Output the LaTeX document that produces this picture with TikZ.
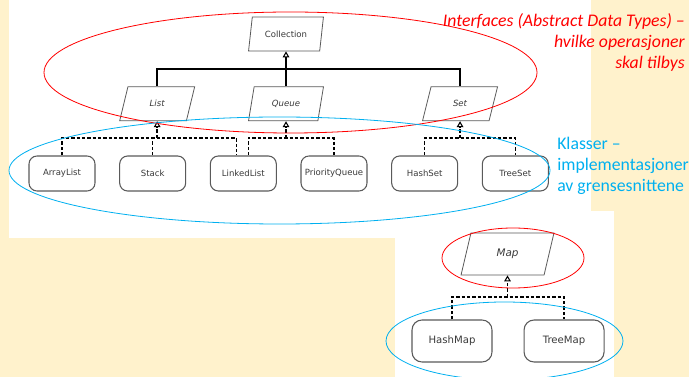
\documentclass[tikz,border=0pt]{standalone}
\usepackage{fontspec}
\setsansfont{DejaVu Sans}
\newfontfamily\notefont{Carlito}
\usepackage{xcolor}
\usetikzlibrary{shapes.geometric, arrows.meta, positioning}
\definecolor{cream}{HTML}{FFF2CC}
\definecolor{skyblue}{HTML}{00B0F0}
\definecolor{boxgray}{HTML}{5A5A5A}
\definecolor{textgray}{HTML}{3A3A3A}

\begin{document}
\begin{tikzpicture}[x=0.75pt, y=-0.75pt, iface/.style={trapezium, trapezium left angle=75, trapezium right angle=105, trapezium stretches=true, draw=boxgray, line width=0.6pt, minimum width=56.25pt, minimum height=25.5pt, inner sep=1pt, font=\sffamily\itshape\fontsize{6.4}{7.7}\selectfont, text=textgray}, bigiface/.style={iface, minimum width=69.75pt, minimum height=31.5pt, font=\sffamily\itshape\fontsize{7.8}{9}\selectfont}, cls/.style={rectangle, draw=boxgray, line width=0.8pt, rounded corners=6pt, minimum width=49.5pt, minimum height=26.25pt, inner sep=1pt, font=\sffamily\fontsize{6.4}{7.7}\selectfont, text=textgray}, bigcls/.style={cls, minimum width=60pt, minimum height=31.5pt, rounded corners=7.5pt, font=\sffamily\fontsize{7.6}{9}\selectfont}, oval/.style={ellipse, draw, line width=0.6pt, inner sep=0pt}, extends/.style={line width=1.1pt}, realizes/.style={line width=1.1pt, dash pattern=on 2.5pt off 1.5pt}, hollowtip/.style={-{Triangle[open, length=4.5pt, width=5pt, line width=0.8pt]}}, note/.style={inner sep=0pt, font=\notefont\fontsize{13.3}{15.75}\selectfont}]
\useasboundingbox (0,0) rectangle (689,377);
\fill[cream] (0,0) rectangle (689,377);
\fill[white] (9,0) rectangle (591,238);
\fill[white] (395,211) rectangle (614,377);
\node[iface, font=\sffamily\fontsize{6.4}{7.7}\selectfont] (collection) at (286,34) {Collection};
\node[iface, below=26.25pt of collection] (queue) {Queue};
\node[iface, left=45pt of queue] (list) {List};
\node[iface, right=79pt of queue] (set) {Set};
\node[cls] (arraylist) at (62,173.5) {ArrayList};
\node[cls, right=17.7pt of arraylist] (stack) {Stack};
\node[cls, right=17.7pt of stack] (linkedlist) {LinkedList};
\node[cls, right=17.7pt of linkedlist] (priorityqueue) {PriorityQueue};
\node[cls, right=17.7pt of priorityqueue] (hashset) {HashSet};
\node[cls, right=17.7pt of hashset] (treeset) {TreeSet};
\node[bigiface] (map) at (507.5,254) {Map};
\node[bigcls] (hashmap) at (452,341) {HashMap};
\node[bigcls, right=23.25pt of hashmap] (treemap) {TreeMap};
\coordinate (collbar) at (286,69);
\coordinate (rowbar) at (0,138);
\coordinate (mapbar) at (0,297);
\path ([xshift=-5.25pt]linkedlist.north) coordinate (llleft) ([xshift=3.75pt]linkedlist.north) coordinate (llright);
\draw[extends, hollowtip] (queue.north) -- (collection.south);
\draw[extends] (list.north) |- (collbar) -| (set.north);
\draw[realizes] (arraylist.north) -- (arraylist.north |- rowbar) -| (llleft);
\draw[realizes] (stack.north) -- (stack.north |- rowbar);
\draw[realizes, hollowtip] (list.south |- rowbar) -- (list.south);
\draw[realizes] (llright) -- (llright |- rowbar) -| (priorityqueue.north);
\draw[realizes, hollowtip] (queue.south |- rowbar) -- (queue.south);
\draw[realizes] (hashset.north) -- (hashset.north |- rowbar) -| (treeset.north);
\draw[realizes, hollowtip] (set.south |- rowbar) -- (set.south);
\draw[realizes] (hashmap.north) -- (hashmap.north |- mapbar) -| (treemap.north);
\draw[realizes, hollowtip] (map.south |- mapbar) -- (map.south);
\node[oval, draw=red, minimum width=369.75pt, minimum height=90.75pt] (ifaceoval) at (290.5,72.5) {};
\node[oval, draw=skyblue, minimum width=405.75pt, minimum height=80.25pt] (clsoval) at (279.5,170.5) {};
\node[oval, draw=red, minimum width=106.5pt, minimum height=45pt] (mapoval) at (513,258) {};
\node[oval, draw=skyblue, minimum width=177.75pt, minimum height=58.5pt] (mapclsoval) at (504.5,341) {};
\node[note, text=red, align=right, anchor=north east, font=\notefont\itshape\fontsize{13.3}{15.75}\selectfont] (ifacenote) at (685,13) {Interfaces (Abstract Data Types) –\\hvilke operasjoner\\skal tilbys};
\node[note, text=skyblue, align=left, anchor=north west] (clsnote) at (557,137) {Klasser –\\implementasjoner\\av grensesnittene};
\end{tikzpicture}
\end{document}
